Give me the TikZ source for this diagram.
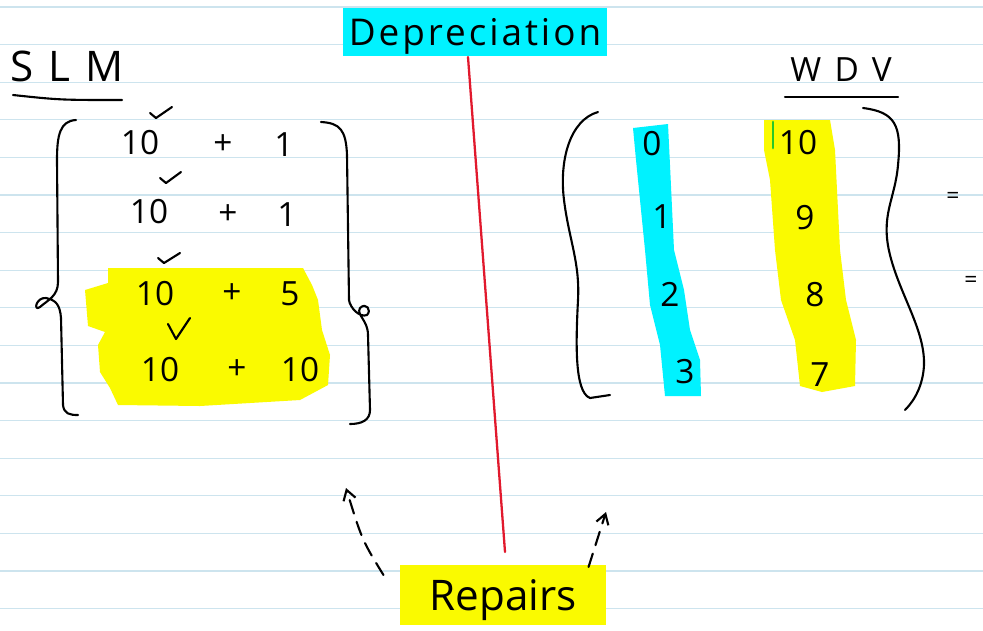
\documentclass[tikz,border=0pt]{standalone}
\usepackage{fontspec}
\setmainfont{Open Sans}
\usetikzlibrary{positioning, arrows.meta}
\definecolor{ruleblue}{RGB}{205,228,238}
\definecolor{hlcyan}{RGB}{0,242,255}
\definecolor{hlyellow}{RGB}{250,250,0}
\definecolor{penred}{RGB}{225,25,45}
\definecolor{pengreen}{RGB}{40,200,40}

\begin{document}
\begin{tikzpicture}[x=0.02cm, y=-0.02cm, line width=1.2pt, line cap=round, line join=round, num/.style={inner sep=0pt, font=\fontsize{19}{19}\selectfont}, heading/.style={inner sep=0pt, font=\fontsize{24}{24}\selectfont\addfontfeature{LetterSpace=35}}, hlnode/.style={inner sep=0pt, text depth=0pt}, tinymark/.style={inner sep=0pt, font=\fontsize{13}{13}\selectfont}]

    %Paper
    \useasboundingbox[fill=white] (0,0) rectangle (983,630);
    \foreach \k in {0,...,16}
        \draw[ruleblue, line width=0.6pt] (0,7+37.6*\k) -- (983,7+37.6*\k);

    %Highlights
    \fill[hlyellow] (108,268) -- (303,268) -- (312,285) -- (318,300) -- (322,330) -- (330,355) -- (328,385) -- (300,400) -- (200,406) -- (118,405) -- (110,388) -- (100,372) -- (98,345) -- (105,332) -- (88,326) -- (85,290) -- (108,283) -- cycle;
    \fill[hlcyan] (633,128) -- (668,124) -- (670,165) -- (674,250) -- (684,290) -- (690,330) -- (700,360) -- (701,396) -- (665,396) -- (660,345) -- (650,305) -- (645,250) -- (640,200) -- (636,160) -- cycle;
    \fill[hlyellow] (764,120) -- (830,120) -- (835,150) -- (840,250) -- (846,300) -- (856,340) -- (855,386) -- (822,392) -- (800,386) -- (795,340) -- (781,300) -- (775,250) -- (770,180) -- (764,150) -- cycle;

    %Nodes
    \node[hlnode, fill=hlcyan, minimum width=5.28cm, minimum height=0.96cm, font=\fontsize{21}{21}\selectfont\addfontfeature{LetterSpace=8}](dep) at (475,32){Depreciation};
    \node[hlnode, fill=hlyellow, minimum width=4.14cm, minimum height=1.2cm, font=\fontsize{24}{24}\selectfont](rep) at (503,595){Repairs};

    \node[heading](slm) at (67,66){SLM};
    \node[heading, font=\fontsize{19}{19}\selectfont\addfontfeature{LetterSpace=40}](wdv) at (841,70){WDV};

    \node[num](ten_a) at (140,143){10};
    \node[num](plus_a) at (223,145){+};
    \node[num](one_a) at (284,145){1};
    \node[num](ten_b) at (149,212){10};
    \node[num](plus_b) at (228,215){+};
    \node[num](one_b) at (287,215){1};
    \node[num](ten_c) at (155,294){10};
    \node[num](plus_c) at (232,294){+};
    \node[num](five_c) at (290,294){5};
    \node[num](ten_d) at (160,370){10};
    \node[num](plus_d) at (237,370){+};
    \node[num](tenb_d) at (300,370){10};

    \node[num](yr_a) at (652,144){0};
    \node[num](yr_b) at (662,217){1};
    \node[num](yr_c) at (670,294){2};
    \node[num](yr_d) at (685,372){3};
    \node[num](val_a) at (798,143){10};
    \node[num](val_b) at (805,218){9};
    \node[num](val_c) at (815,295){8};
    \node[num](val_d) at (820,375){7};

    \node[tinymark](eq_a) at (953,198){=};
    \node[tinymark](eq_b) at (971,282){=};

    %Ink
    \draw (13,95) .. controls (60,100) .. (122,100);
    \draw (785,97) -- (898,97);
    \draw[pengreen, line width=1.6pt] (773,122) -- (773,148);

    \draw (150,113) -- (156,118) -- (172,107);
    \draw (160,178) -- (166,183) -- (181,172);
    \draw (158,258) -- (164,263) -- (180,253);
    \draw (168,324) -- (176,339) -- (190,318);

    \draw (76,120) .. controls (60,121) and (57,135) .. (57,160) -- (58,282) .. controls (58,296) and (48,300) .. (40,307) .. controls (33,312) and (36,297) .. (46,298) .. controls (56,300) and (60,305) .. (61,318) -- (63,405) .. controls (64,414) and (70,415) .. (78,415);
    \draw (321,122) .. controls (340,123) and (346,130) .. (347,155) -- (349,300) .. controls (350,308) and (360,318) .. (367,315) .. controls (372,310) and (366,302) .. (360,308) .. controls (356,315) and (368,320) .. (368,335) -- (370,410) .. controls (370,420) and (362,424) .. (350,424);

    \draw (598,112) .. controls (570,120) and (559,160) .. (564,200) .. controls (569,240) and (580,262) .. (578,300) .. controls (576,340) and (574,392) .. (590,398) -- (610,395);
    \draw (863,108) .. controls (895,112) and (902,125) .. (898,165) .. controls (895,200) and (880,215) .. (890,255) .. controls (900,295) and (925,330) .. (924,365) .. controls (923,385) and (915,400) .. (905,410);

    %Lines
    \draw[penred, line width=1.3pt] ([xshift=-0.14cm]dep.south) -- ([xshift=0.04cm, yshift=0.24cm]rep.north);
    \coordinate (up_left) at (346,488);
    \coordinate (up_right) at (606,512);
    \draw[dash pattern=on 8pt off 5pt, -{Straight Barb[length=2mm, width=2.5mm]}] ([xshift=-0.3cm, yshift=0.4cm]rep.west) .. controls (362,540) .. (up_left);
    \draw[dash pattern=on 8pt off 5pt, -{Straight Barb[length=2mm, width=2.5mm]}] ([xshift=-0.38cm, yshift=-0.06cm]rep.north east) -- (up_right);

\end{tikzpicture}
\end{document}
